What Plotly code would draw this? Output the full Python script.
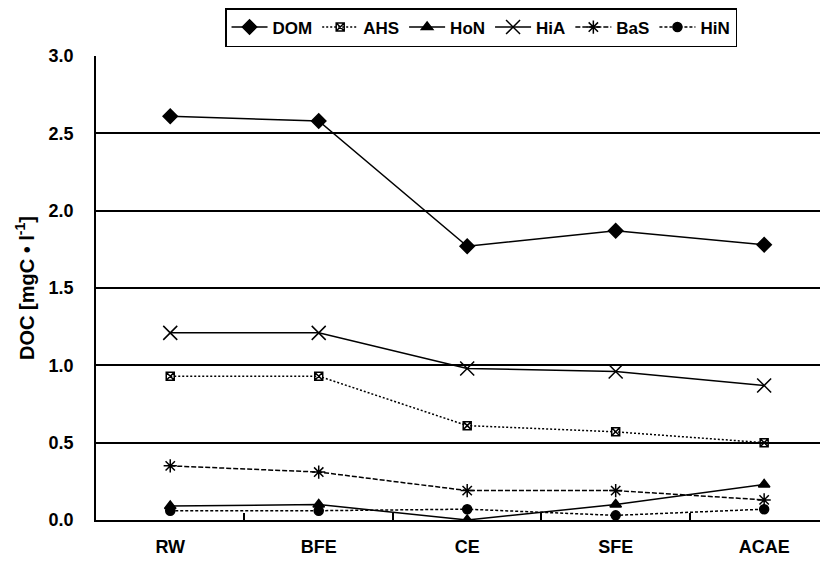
import plotly.graph_objects as go

categories = ["RW", "BFE", "CE", "SFE", "ACAE"]
series_names = ["DOM", "AHS", "HoN", "HiA", "BaS", "HiN"]
dom = [2.61, 2.58, 1.77, 1.87, 1.78]
ahs = [0.93, 0.93, 0.61, 0.57, 0.50]
hon = [0.09, 0.10, 0.00, 0.10, 0.23]
hia = [1.21, 1.21, 0.98, 0.96, 0.87]
bas = [0.35, 0.31, 0.19, 0.19, 0.13]
hin = [0.06, 0.06, 0.07, 0.03, 0.07]
y_ticks = [0.0, 0.5, 1.0, 1.5, 2.0, 2.5, 3.0]

styles = {
    "DOM": dict(symbol="diamond", size=11, dash="solid"),
    "AHS": dict(symbol="square-x-open", size=8, dash="2px,2px"),
    "HoN": dict(symbol="triangle-up", size=10, dash="solid"),
    "HiA": dict(symbol="x-thin-open", size=14, dash="solid"),
    "BaS": dict(symbol="asterisk-open", size=11, dash="5px,2px"),
    "HiN": dict(symbol="circle", size=9, dash="3px,2px"),
}
values = {"DOM": dom, "AHS": ahs, "HoN": hon, "HiA": hia, "BaS": bas, "HiN": hin}

fig = go.Figure()
for name in series_names:
    s = styles[name]
    fig.add_trace(go.Scatter(
        x=categories, y=values[name], name=name, mode="lines+markers",
        line=dict(color="black", width=1.5, dash=s["dash"]),
        marker=dict(symbol=s["symbol"], size=s["size"], color="black",
                    line=dict(color="black", width=1.5)),
    ))

font = dict(family="Liberation Sans, Arial, sans-serif", size=18, color="black",
            weight="bold")
# page body has an 8px default margin, so the figure is 8px smaller than the window
fig.update_layout(
    width=820, height=555,
    margin=dict(l=88, r=0, t=48, b=43, autoexpand=False),
    paper_bgcolor="white", plot_bgcolor="white",
    font=font,
    showlegend=True,
    legend=dict(orientation="h", x=0.526, xanchor="center",
                yref="container", y=1.0, yanchor="top",
                bordercolor="black", borderwidth=1.5, bgcolor="white",
                font=dict(size=17, weight="bold"), itemwidth=36, tracegroupgap=0),
    xaxis=dict(type="category", range=[-0.5, 4.43], showline=True, linecolor="black",
               linewidth=1.5, ticks="inside", tickson="boundaries", ticklen=7,
               tickcolor="black", tickwidth=1.5, showgrid=False, ticklabelstandoff=10,
               fixedrange=True),
    yaxis=dict(range=[0, 3.0], tickvals=y_ticks, tickformat=".1f", showline=True,
               linecolor="black", linewidth=1.5, showgrid=True, gridcolor="black",
               gridwidth=1.5, zeroline=False, ticks="", ticklabelstandoff=17,
               title=dict(text="DOC [mgC \u2022 l<sup>-1</sup>]", standoff=9,
                          font=dict(size=20, weight="bold"))),
)
fig.write_html("out.html")
